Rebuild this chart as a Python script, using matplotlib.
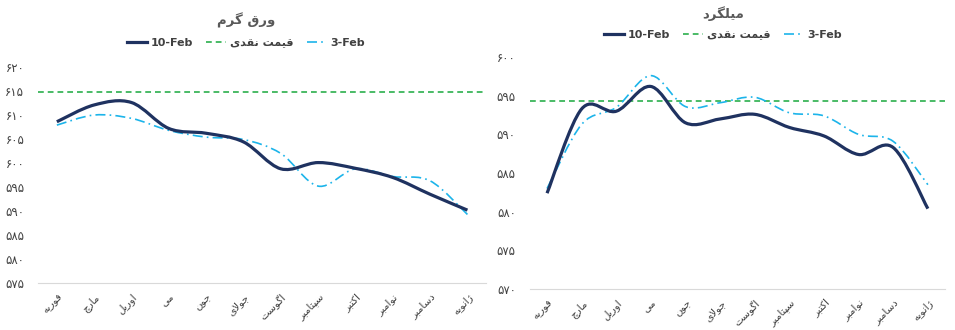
import numpy as np
import matplotlib
matplotlib.use("Agg")
import matplotlib.pyplot as plt
from matplotlib.path import Path
from matplotlib.patches import PathPatch
from matplotlib.lines import Line2D

plt.rcParams['font.family'] = ['DejaVu Sans']

# Data
months = ["فوریه", "مارچ", "اوریل", "می", "جون", "جولای", "اگوست",
          "سپتامبر", "اکتبر", "نوامبر", "دسامبر", "ژانویه"]

sheet_title = "ورق گرم"
sheet_feb10 = [608.6, 612.1, 612.6, 607.2, 606.2, 604.4, 598.8, 600.1, 598.9, 597.0, 593.5, 590.2]
sheet_feb3 = [607.9, 610.0, 609.3, 606.8, 605.4, 604.9, 602.0, 595.2, 598.8, 597.2, 596.3, 589.3]
sheet_spot = 614.7

rebar_title = "میلگرد"
rebar_feb10 = [582.4, 593.3, 593.0, 596.2, 591.5, 592.0, 592.6, 590.9, 589.8, 587.4, 588.3, 580.4]
rebar_feb3 = [583.0, 591.3, 593.5, 597.6, 593.6, 594.1, 594.8, 592.8, 592.4, 590.0, 589.1, 583.5]
rebar_spot = 594.3

spot_label = "قیمت نقدی"

NAVY = "#1F3260"
GREEN = "#3BB55A"
CYAN = "#1CB4EA"
GRAY = "#595959"
DARK = "#404040"

# Persian contextual forms: isolated, final, initial, medial
FORMS = {
    'ا': ('\uFE8D', '\uFE8E', None, None),
    'ب': ('\uFE8F', '\uFE90', '\uFE91', '\uFE92'),
    'پ': ('\uFB56', '\uFB57', '\uFB58', '\uFB59'),
    'ت': ('\uFE95', '\uFE96', '\uFE97', '\uFE98'),
    'ج': ('\uFE9D', '\uFE9E', '\uFE9F', '\uFEA0'),
    'چ': ('\uFB7A', '\uFB7B', '\uFB7C', '\uFB7D'),
    'د': ('\uFEA9', '\uFEAA', None, None),
    'ر': ('\uFEAD', '\uFEAE', None, None),
    'ژ': ('\uFB8A', '\uFB8B', None, None),
    'س': ('\uFEB1', '\uFEB2', '\uFEB3', '\uFEB4'),
    'ف': ('\uFED1', '\uFED2', '\uFED3', '\uFED4'),
    'ق': ('\uFED5', '\uFED6', '\uFED7', '\uFED8'),
    'ک': ('\uFB8E', '\uFB8F', '\uFB90', '\uFB91'),
    'گ': ('\uFB92', '\uFB93', '\uFB94', '\uFB95'),
    'ل': ('\uFEDD', '\uFEDE', '\uFEDF', '\uFEE0'),
    'م': ('\uFEE1', '\uFEE2', '\uFEE3', '\uFEE4'),
    'ن': ('\uFEE5', '\uFEE6', '\uFEE7', '\uFEE8'),
    'ه': ('\uFEE9', '\uFEEA', '\uFEEB', '\uFEEC'),
    'و': ('\uFEED', '\uFEEE', None, None),
    'ی': ('\uFBFC', '\uFBFD', '\uFBFE', '\uFBFF'),
}


def fa(text):
    # join letters and put them in visual order
    out = []
    i = 0
    n = len(text)
    while i < n:
        c = text[i]
        if c not in FORMS:
            out.append(c)
            i += 1
            continue
        prev = text[i - 1] if i > 0 else None
        conn_prev = prev in FORMS and FORMS[prev][2] is not None
        if c == 'ل' and i + 1 < n and text[i + 1] == 'ا':
            out.append('\uFEFC' if conn_prev else '\uFEFB')
            i += 2
            continue
        nxt = text[i + 1] if i + 1 < n else None
        conn_next = FORMS[c][2] is not None and nxt in FORMS
        iso, fin, ini, med = FORMS[c]
        if conn_prev and conn_next:
            out.append(med)
        elif conn_prev:
            out.append(fin)
        elif conn_next:
            out.append(ini)
        else:
            out.append(iso)
        i += 1
    return ''.join(reversed(out))


def fa_digits(v):
    return str(int(v)).translate(str.maketrans("0123456789", "۰۱۲۳۴۵۶۷۸۹"))


def smooth_path(y):
    # Excel-like smoothed line (Catmull-Rom bezier through the points)
    x = np.arange(len(y), dtype=float)
    p = np.column_stack([x, np.asarray(y, dtype=float)])
    ext = np.vstack([p[0], p, p[-1]])
    verts = [p[0]]
    codes = [Path.MOVETO]
    for i in range(len(p) - 1):
        p0, p1, p2, p3 = ext[i], ext[i + 1], ext[i + 2], ext[i + 3]
        verts += [p1 + (p2 - p0) / 6, p2 - (p3 - p1) / 6, p2]
        codes += [Path.CURVE4] * 3
    return Path(verts, codes)


def draw(ax, feb10, feb3, spot, ylo, yhi, title_x, title_y, leg_y):
    ax.axhline(spot, color=GREEN, lw=1.3, ls=(0, (3.2, 2.2)), zorder=1)
    ax.add_patch(PathPatch(smooth_path(feb3), fill=False, ec=CYAN, lw=1.2,
                           ls=(0, (6, 2.5, 1, 2.5)), zorder=2))
    ax.add_patch(PathPatch(smooth_path(feb10), fill=False, ec=NAVY, lw=2.3, zorder=3))
    ax.set_xlim(-0.5, len(months) - 0.5)
    ax.set_ylim(ylo, yhi)
    ticks = np.arange(ylo, yhi + 1, 5)
    ax.set_yticks(ticks)
    ax.set_yticklabels([fa_digits(t) for t in ticks], color=DARK, fontsize=8.5)
    ax.set_xticks(range(len(months)))
    ax.set_xticklabels([fa(m) for m in months], rotation=45, ha='right',
                       rotation_mode='anchor', color=DARK, fontsize=7.5)
    ax.tick_params(length=0, axis='y', pad=10)
    ax.tick_params(length=0, axis='x', pad=6)
    for s in ['top', 'right', 'left']:
        ax.spines[s].set_visible(False)
    ax.spines['bottom'].set_color('#D9D9D9')
    fig.text(title_x, title_y, fa(ax.get_label()), ha='center', va='center',
             fontsize=9.5, fontweight='bold', color=GRAY)
    handles = [Line2D([], [], color=NAVY, lw=2.3),
               Line2D([], [], color=GREEN, lw=1.3, ls=(0, (3.2, 2.2))),
               Line2D([], [], color=CYAN, lw=1.2, ls=(0, (6, 2.5, 1, 2.5)))]
    labels = ["10-Feb", fa(spot_label), "3-Feb"]
    fig.legend(handles, labels, loc='center', bbox_to_anchor=(title_x, leg_y),
               ncol=3, frameon=False, handlelength=1.8, handletextpad=0.3,
               columnspacing=1.2, prop={'size': 8, 'weight': 'bold'},
               labelcolor=DARK)


fig = plt.figure(figsize=(9.55, 3.3), dpi=100)

ax1 = fig.add_axes([0.040, 0.142, 0.469, 0.655], label=sheet_title)
draw(ax1, sheet_feb10, sheet_feb3, sheet_spot, 575, 620, 246 / 955, 1 - 20 / 330, 1 - 43 / 330)

ax2 = fig.add_axes([0.5547, 0.124, 0.435, 0.703], label=rebar_title)
draw(ax2, rebar_feb10, rebar_feb3, rebar_spot, 570, 600, 723 / 955, 1 - 14 / 330, 1 - 35 / 330)

fig.savefig("out.png", dpi=100)
